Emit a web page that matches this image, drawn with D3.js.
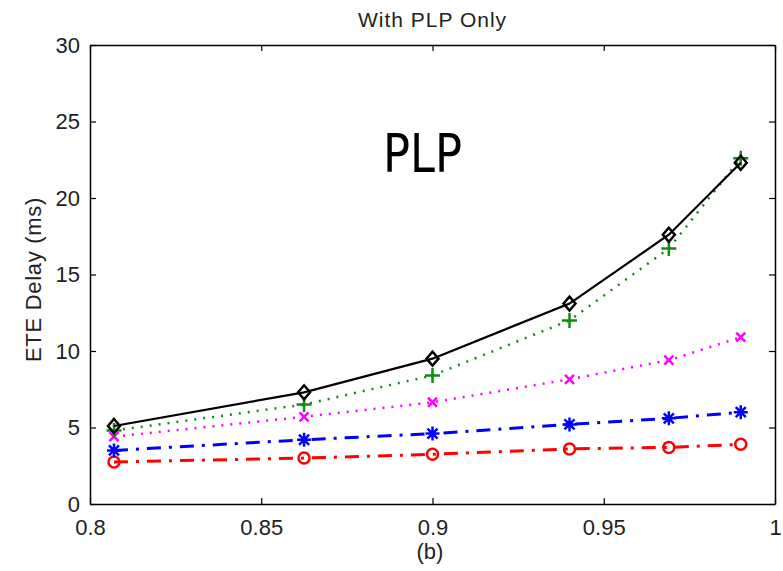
<!DOCTYPE html>
<html>
<head>
<meta charset="utf-8">
<script src="https://cdn.jsdelivr.net/npm/d3@7"></script>
<style>
  body { margin: 0; background: #fff; }
  svg text { font-family: "Liberation Sans", Arial, sans-serif; fill: #222; }
</style>
</head>
<body>
<script>
// load factor points (x axis) and ETE delay for each curve
const loadX = [0.807, 0.8625, 0.9, 0.94, 0.969, 0.99];
const delayBlack = [5.1, 7.3, 9.5, 13.1, 17.6, 22.3];
const delayGreen = [4.8, 6.5, 8.4, 12.0, 16.7, 22.6];
const delayMagenta = [4.4, 5.7, 6.65, 8.15, 9.4, 10.9];
const delayBlue = [3.5, 4.2, 4.6, 5.2, 5.6, 6.0];
const delayRed = [2.75, 3.0, 3.25, 3.6, 3.7, 3.9];

const xTicks = [0.8, 0.85, 0.9, 0.95, 1];
const yTicks = [0, 5, 10, 15, 20, 25, 30];

const size_graph = {x: 783, y: 571},
      margin = {top: 45, bot: 67, right: 8, left: 90},
      width = size_graph.x - margin.left - margin.right,
      height = size_graph.y - margin.top - margin.bot;

const svg = d3.select("body").append("svg")
  .attr("width", size_graph.x)
  .attr("height", size_graph.y);

const g = svg.append("g")
  .attr("transform", `translate(${margin.left},${margin.top})`);

const x = d3.scaleLinear().domain([0.8, 1]).range([0, width]);
const y = d3.scaleLinear().domain([0, 30]).range([height, 0]);

// axes, matlab style: ticks inside, box all around
const styleAxis = sel => {
  sel.selectAll("path").attr("stroke", "#000").attr("stroke-width", 1.5);
  sel.selectAll("line").attr("stroke", "#000").attr("stroke-width", 1.2);
  sel.selectAll("text").style("font-size", "22px").attr("fill", "#222");
};

g.append("g")
  .attr("transform", `translate(0,${height})`)
  .call(d3.axisBottom(x).tickValues(xTicks).tickSizeInner(-6).tickSizeOuter(0)
    .tickPadding(15).tickFormat(d => d3.format("~g")(d)))
  .call(styleAxis);

g.append("g")
  .call(d3.axisLeft(y).tickValues(yTicks).tickSizeInner(-6).tickSizeOuter(0)
    .tickPadding(10))
  .call(styleAxis);

g.append("g")
  .call(d3.axisTop(x).tickValues(xTicks).tickSizeInner(-6).tickSizeOuter(0).tickFormat(""))
  .call(styleAxis);

g.append("g")
  .attr("transform", `translate(${width},0)`)
  .call(d3.axisRight(y).tickValues(yTicks).tickSizeInner(-6).tickSizeOuter(0).tickFormat(""))
  .call(styleAxis);

// markers
const marker = function (type, r) {
  switch (type) {
    case "diamond":
      return `M0,${-r - 1}L${r},0L0,${r + 1}L${-r},0Z`;
    case "plus":
      return `M${-r},0H${r}M0,${-r}V${r}`;
    case "x":
      return `M${-r},${-r}L${r},${r}M${-r},${r}L${r},${-r}`;
    case "star": {
      const d = r * 0.72;
      return `M${-r},0H${r}M0,${-r}V${r}M${-d},${-d}L${d},${d}M${-d},${d}L${d},${-d}`;
    }
    case "circle":
      return `M${r},0A${r},${r} 0 1,1 ${-r},0A${r},${r} 0 1,1 ${r},0Z`;
  }
};

const series = [
  {vals: delayRed, color: "#ff0000", dash: "14,8,3,8", w: 3, mk: "circle", r: 5.5},
  {vals: delayBlue, color: "#0000ff", dash: "14,8,3,8", w: 3, mk: "star", r: 7},
  {vals: delayMagenta, color: "#ff00ff", dash: "2,7", w: 2.5, mk: "x", r: 4.5},
  {vals: delayGreen, color: "#138a13", dash: "2,7", w: 2.5, mk: "plus", r: 7.5},
  {vals: delayBlack, color: "#000000", dash: null, w: 2.2, mk: "diamond", r: 6}
];

const line = d3.line().x(d => x(d[0])).y(d => y(d[1]));

series.forEach(s => {
  const pts = loadX.map((v, i) => [v, s.vals[i]]);
  g.append("path")
    .datum(pts)
    .attr("d", line)
    .attr("fill", "none")
    .attr("stroke", s.color)
    .attr("stroke-width", s.w)
    .attr("stroke-dasharray", s.dash);
  g.selectAll(".m-" + s.mk)
    .data(pts)
    .enter()
    .append("path")
    .attr("class", "m-" + s.mk)
    .attr("transform", d => `translate(${x(d[0])},${y(d[1])})`)
    .attr("d", marker(s.mk, s.r))
    .attr("fill", "none")
    .attr("stroke", s.color)
    .attr("stroke-width", 2.5);
});

// labels
svg.append("text")
  .attr("x", margin.left + width / 2)
  .attr("y", 27)
  .attr("text-anchor", "middle")
  .style("font-size", "21px")
  .style("letter-spacing", "1px")
  .text("With PLP Only");

svg.append("text")
  .attr("transform", `translate(41,${margin.top + height / 2 + 5}) rotate(-90)`)
  .attr("text-anchor", "middle")
  .style("font-size", "22px")
  .style("letter-spacing", "0.7px")
  .text("ETE Delay (ms)");

svg.append("text")
  .attr("x", 430)
  .attr("y", 559)
  .attr("text-anchor", "middle")
  .style("font-size", "22px")
  .text("(b)");

svg.append("text")
  .attr("x", 383)
  .attr("y", 172)
  .attr("textLength", 79)
  .attr("lengthAdjust", "spacingAndGlyphs")
  .style("font-family", "'Comic Sans MS', 'DejaVu Sans', sans-serif")
  .style("font-size", "53px")
  .style("fill", "#000")
  .text("PLP");
</script>
</body>
</html>
